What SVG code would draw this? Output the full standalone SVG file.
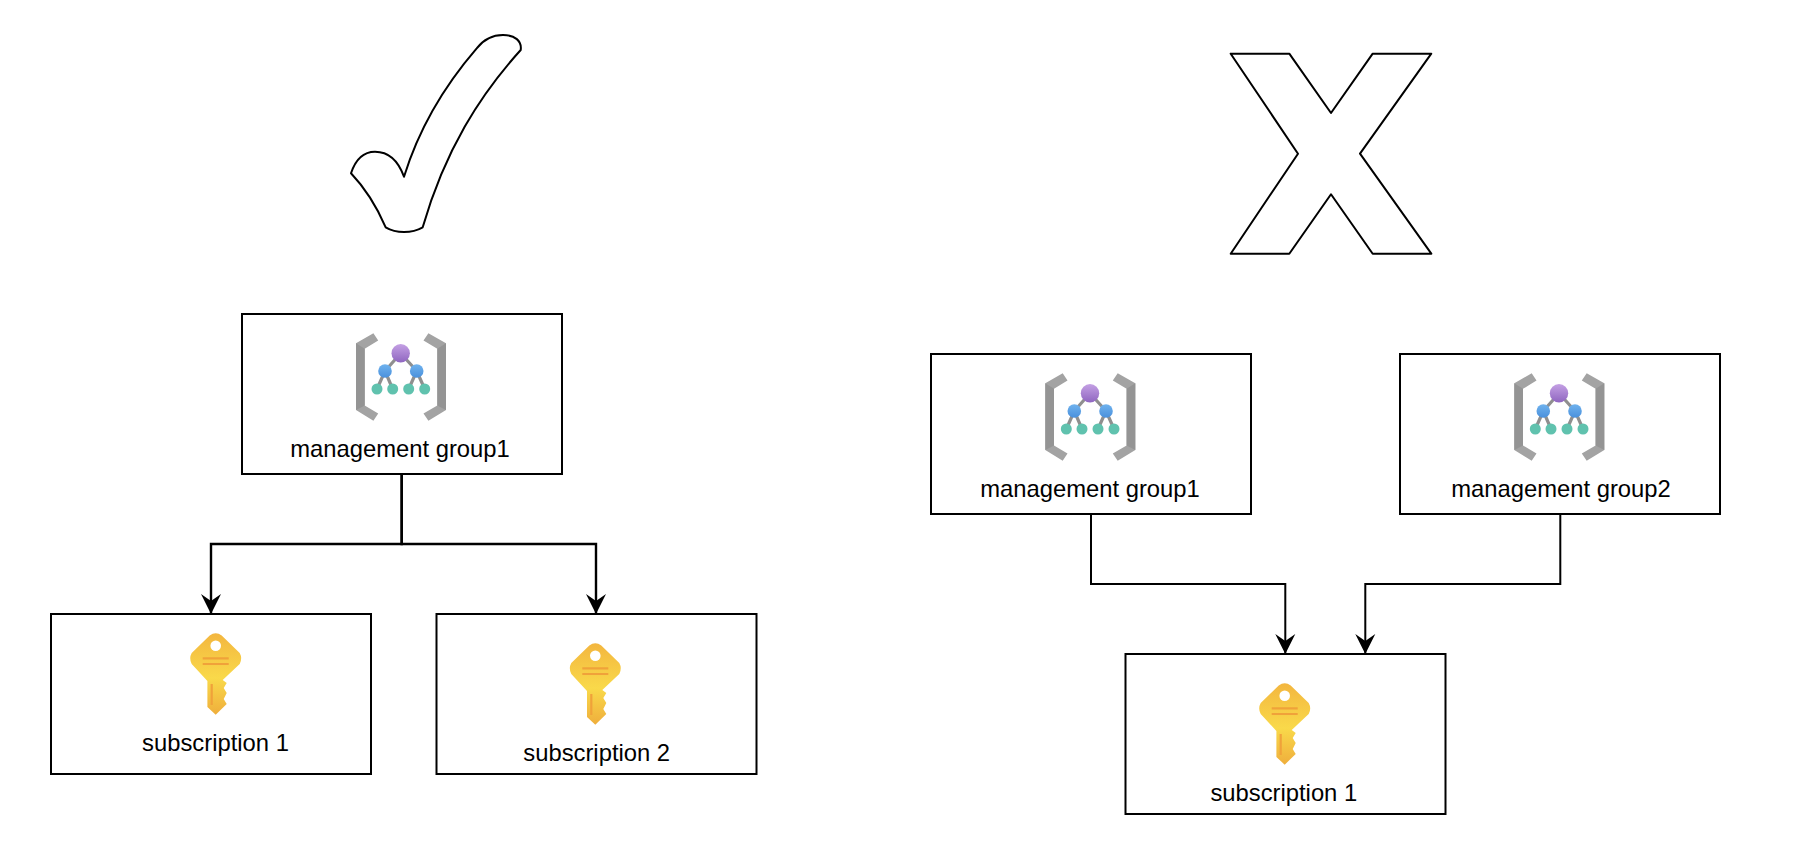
<svg xmlns="http://www.w3.org/2000/svg" width="1816" height="850" viewBox="0 0 1816 850">
<style>
.box{fill:#fff;stroke:#000;stroke-width:2}
.shape{fill:#fff;stroke:#000;stroke-width:2;stroke-linejoin:round}
.conn{fill:none;stroke:#000;stroke-width:2}
.thick{stroke-width:2.400}
text{font-family:"Liberation Sans",Arial,sans-serif;font-size:23.800px;fill:#000;text-anchor:middle}
</style>
<defs>
<linearGradient id="kg" x1="0" y1="0" x2="0" y2="1"><stop offset="0" stop-color="#f3b63f"/><stop offset=".55" stop-color="#f9d94a"/><stop offset="1" stop-color="#efae3c"/></linearGradient>
<linearGradient id="pg" x1="0" y1="0" x2="0" y2="1"><stop offset="0" stop-color="#c4a0e4"/><stop offset="1" stop-color="#8f66c0"/></linearGradient>
<linearGradient id="bg" x1="0" y1="0" x2="0" y2="1"><stop offset="0" stop-color="#6fb2ee"/><stop offset="1" stop-color="#4a90dc"/></linearGradient>
<marker id="arrow" markerUnits="userSpaceOnUse" markerWidth="24" markerHeight="24" refX="20" refY="11" orient="auto"><path d="M0 1 L20 11 L0 21 L7 11Z" fill="#000"/></marker>
<g id="mgicon">
<path d="M-27.300 -43.700 L-22.500 -36.500 L-36 -28.200 L-36 28.500 L-22.500 36.500 L-27.300 43.700 L-44.700 33 L-44.700 -33.700Z" fill="#a3a3a3"/>
<path d="M-44.700 -33.700 L-36 -28.200 L-36 28.500 L-44.700 33Z" fill="#949494"/>
<path d="M27.700 -43.700 L22.800 -36.500 L36.600 -28.200 L36.600 28.500 L22.800 36.500 L27.700 43.700 L45.300 33 L45.300 -33.700Z" fill="#a3a3a3"/>
<path d="M45.300 -33.700 L36.600 -28.200 L36.600 28.500 L45.300 33Z" fill="#949494"/>
<path d="M0 -23.700 L-15.700 -6 M0 -23.700 L16 -6 M-15.700 -6 L-23.700 12 M-15.700 -6 L-8 12 M16 -6 L8 12 M16 -6 L24 12" stroke="#8f8f8f" stroke-width="3.200" fill="none"/>
<circle cx="0" cy="-23.700" r="9.200" fill="url(#pg)"/>
<circle cx="-15.700" cy="-6" r="6.800" fill="url(#bg)"/><circle cx="16" cy="-6" r="6.800" fill="url(#bg)"/>
<circle cx="-23.700" cy="12" r="5.500" fill="#60c2ae"/><circle cx="-8" cy="12" r="5.500" fill="#60c2ae"/><circle cx="8" cy="12" r="5.500" fill="#60c2ae"/><circle cx="24" cy="12" r="5.500" fill="#60c2ae"/>
</g>
<g id="keyicon">
<path d="M-6 -38.500 Q0 -43 6 -38.500 L24 -21 Q27 -15.700 24 -10 L7 6 L11 9 L8 14 L11 19 L8 25 L11 30 L0 40.700 L-8.300 33 L-8.300 7 L-24 -10 Q-27 -15.700 -24 -21Z" fill="url(#kg)"/>
<circle cx="0" cy="-28.300" r="5.300" fill="#fff"/>
<path d="M-13 -15.700 H13 M-13 -10 H13 M-4 10 V31" stroke="#f0a23a" stroke-width="2.200" fill="none"/>
</g>
</defs>
<rect width="1816" height="850" fill="#fff"/>
<path id="check" class="shape" d="M404 176.700 C420 125 445 85 476.700 48.300 C484 39 492 35 503 35 C515 35 522 41 520.700 50 C480 95 445 150 422.700 227.300 C412 233.500 396 233.500 385.700 227.300 C376 205 365 188 351 173.300 C356 158 364 151.700 375 151.700 C388 151.700 398 160 404 176.700Z"/>
<polygon id="cross" class="shape" points="1230.700,53.700 1289.300,53.700 1331,113 1372.700,53.700 1431.300,53.700 1360,153.700 1431.300,253.700 1372.700,253.700 1331,194.300 1289.300,253.700 1230.700,253.700 1298,153.700"/>
<g id="connectors">
<path class="conn thick" marker-end="url(#arrow)" d="M401.700 474V544H211V614"/>
<path class="conn thick" marker-end="url(#arrow)" d="M401.700 474V544H596V614"/>
<path class="conn" marker-end="url(#arrow)" d="M1091 514V584H1285.300V654"/>
<path class="conn" marker-end="url(#arrow)" d="M1560.300 514V584H1365.300V654"/>
</g>
<g id="mg-left"><rect class="box" x="242" y="314" width="320" height="160"/><use href="#mgicon" x="400.700" y="377"/><text x="400" y="457">management group1</text></g>
<g id="sub1-left"><rect class="box" x="51" y="614" width="320" height="160"/><use href="#keyicon" x="215.700" y="674"/><text x="215.500" y="751">subscription 1</text></g>
<g id="sub2-left"><rect class="box" x="436.500" y="614" width="320" height="160"/><use href="#keyicon" x="595.300" y="684"/><text x="596.700" y="761">subscription 2</text></g>
<g id="mg1-right"><rect class="box" x="931" y="354" width="320" height="160"/><use href="#mgicon" x="1090" y="417"/><text x="1090" y="497">management group1</text></g>
<g id="mg2-right"><rect class="box" x="1400" y="354" width="320" height="160"/><use href="#mgicon" x="1559" y="417"/><text x="1561" y="497">management group2</text></g>
<g id="sub-right"><rect class="box" x="1125.500" y="654" width="320" height="160"/><use href="#keyicon" x="1284.700" y="724"/><text x="1283.800" y="801">subscription 1</text></g>
</svg>
